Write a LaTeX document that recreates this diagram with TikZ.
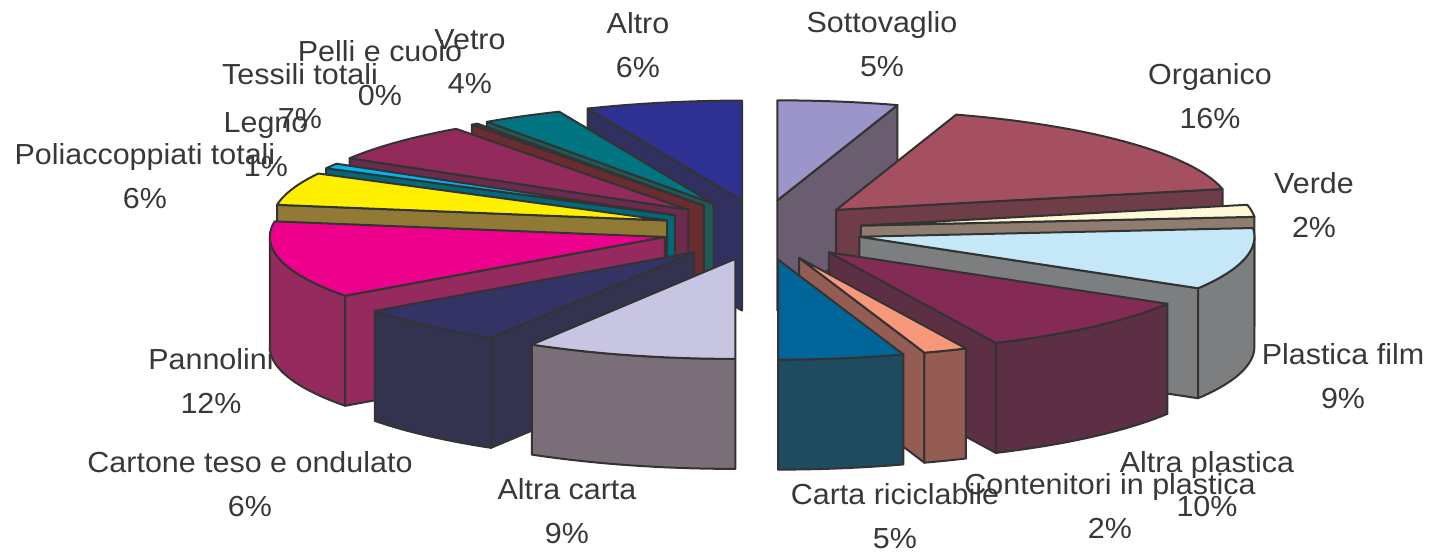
\documentclass[tikz,border=0pt]{standalone}
\usepackage{fontspec}
\setmainfont{Liberation Sans}[FakeStretch=1.05]
\definecolor{edge}{HTML}{333333}
\definecolor{txtgray}{HTML}{383838}
\definecolor{sottoT}{HTML}{9C95C9}\definecolor{sottoS}{HTML}{6A5D70}
\definecolor{organT}{HTML}{A45060}\definecolor{organS}{HTML}{6F3D47}
\definecolor{verdeT}{HTML}{FFF9D7}\definecolor{verdeS}{HTML}{8F7D6F}
\definecolor{filmT}{HTML}{C5E8F8}\definecolor{filmS}{HTML}{7D7E80}
\definecolor{aplastT}{HTML}{832A55}\definecolor{aplastS}{HTML}{5C2F45}
\definecolor{contT}{HTML}{F7987A}\definecolor{contS}{HTML}{945C52}
\definecolor{cricT}{HTML}{006699}\definecolor{cricS}{HTML}{1F4B60}
\definecolor{acartaT}{HTML}{C8C5E2}\definecolor{acartaS}{HTML}{7A6E78}
\definecolor{cartoneT}{HTML}{333366}\definecolor{cartoneS}{HTML}{33334F}
\definecolor{pannT}{HTML}{EC008C}\definecolor{pannS}{HTML}{952A5F}
\definecolor{poliT}{HTML}{FFF000}\definecolor{poliS}{HTML}{917A36}
\definecolor{legnoT}{HTML}{00B4F0}\definecolor{legnoS}{HTML}{00697A}
\definecolor{tessT}{HTML}{922A5C}\definecolor{tessS}{HTML}{6C2A4C}
\definecolor{pelliT}{HTML}{6B2C30}\definecolor{pelliS}{HTML}{6B2C30}
\definecolor{vetroT}{HTML}{007480}\definecolor{vetroS}{HTML}{1F5A54}
\definecolor{altroT}{HTML}{2E3192}\definecolor{altroS}{HTML}{32305F}

\begin{document}
\begin{tikzpicture}[x=0.5pt,y=-0.5pt,
  face/.style={draw=edge,line width=1pt,line join=round},
  lbl/.style={text=txtgray,align=center,inner sep=0pt,anchor=base,
    font=\fontsize{14.5}{22}\selectfont}]
\useasboundingbox (0,0) rectangle (1432,555);

  % fette: inizio/fine/colore sopra/colore lato
  \foreach \a/\b/\ct/\cs in {0/17.7/sottoT/sottoS, 17.7/78/organT/organS,
      78/85/verdeT/verdeS, 85/121/filmT/filmS, 121/155/aplastT/aplastS,
      155/161.5/contT/contS, 161.5/180/cricT/cricS,
      337/360/altroT/altroS, 325/337/vetroT/vetroS, 324/325/pelliT/pelliS,
      301/324/tessT/tessS, 298/301/legnoT/legnoS, 279/298/poliT/poliS,
      234/279/pannT/pannS, 211/234/cartoneT/cartoneS, 180/211/acartaT/acartaS}{
    \pgfmathsetmacro\m{(\a+\b)/2}
    \pgfmathsetmacro\tx{762+100*sin(\m)}
    \pgfmathsetmacro\ty{230-30*cos(\m)}
    \pgfmathsetmacro\r{\b<181 ? \b : \a}
    \pgfmathsetmacro\lo{max(\a,90)}
    \pgfmathsetmacro\hi{min(\b,270)}
    \filldraw[face,fill=\cs] (\tx,\ty) -- ({\tx+395*sin(\r)},{\ty-100*cos(\r)})
      -- ++(0,110) -- (\tx,{\ty+110}) -- cycle;
    \ifdim\lo pt<\hi pt
      \filldraw[face,fill=\cs]
        plot[domain=\lo:\hi,samples=30,variable=\q] ({\tx+395*sin(\q)},{\ty-100*cos(\q)})
        -- plot[domain=\hi:\lo,samples=30,variable=\q] ({\tx+395*sin(\q)},{\ty-100*cos(\q)+110})
        -- cycle;
    \fi
    \filldraw[face,fill=\ct] (\tx,\ty)
      -- plot[domain=\a:\b,samples=30,variable=\q] ({\tx+395*sin(\q)},{\ty-100*cos(\q)}) -- cycle;
  }

  \foreach \x/\y/\n/\txt in {638/78/altro/{Altro\\6\%}, 882/77/sotto/{Sottovaglio\\5\%},
      1210/129/organ/{Organico\\16\%}, 1314/238/verde/{Verde\\2\%},
      1343/409/film/{Plastica film\\9\%}, 1207/517/aplast/{Altra plastica\\10\%},
      1110/539/cont/{Contenitori in plastica\\2\%}, 895/549/cric/{Carta riciclabile\\5\%},
      567/544/acarta/{Altra carta\\9\%}, 250/517/cartone/{Cartone teso e ondulato\\6\%},
      211/414/pann/{Pannolini\\12\%}, 145/209/poli/{Poliaccoppiati totali\\6\%},
      266/177/legno/{Legno\\1\%}, 300/129/tess/{Tessili totali\\7\%},
      380/106/pelli/{Pelli e cuoio\\0\%}, 470/94/vetro/{Vetro\\4\%}}
    \node[lbl] (l-\n) at (\x,\y) {\txt};

\end{tikzpicture}
\end{document}
